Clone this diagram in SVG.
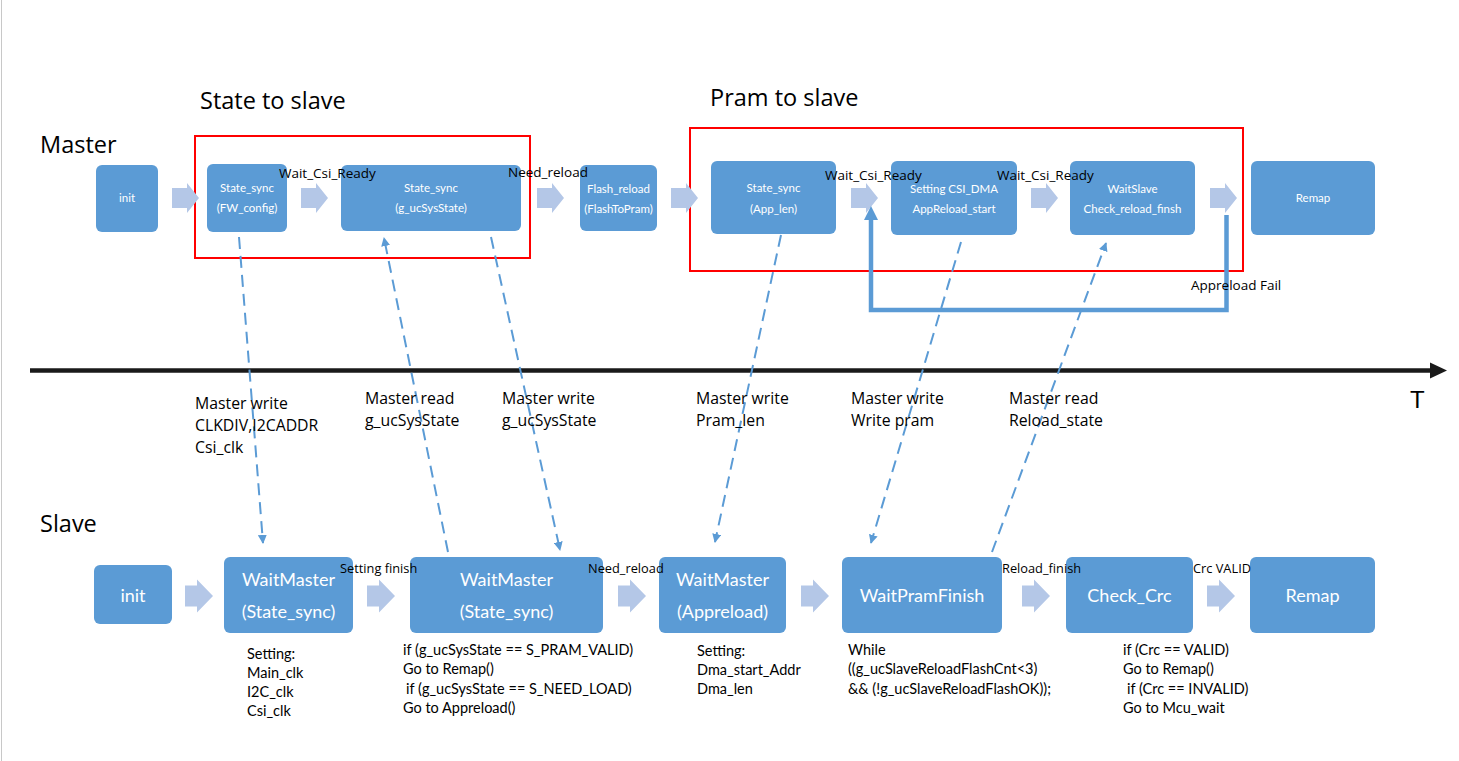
<svg xmlns="http://www.w3.org/2000/svg" width="1459" height="761" viewBox="0 0 1459 761">
<defs>
<style>
.node{fill:#5b9bd5}
.blk{fill:#b4c7e7}
.mt{font-family:Lato,"Liberation Sans",sans-serif;font-size:11.5px;fill:#fff;text-anchor:middle}
.st{font-family:Lato,"Liberation Sans",sans-serif;font-size:18px;fill:#fff;text-anchor:middle}
.lbl{font-family:"Open Sans","Noto Sans",sans-serif;font-size:13.5px;fill:#000}
.sl{font-size:12.8px}
.mid{font-family:"Open Sans","Noto Sans",sans-serif;font-size:15.8px;fill:#000}
.note{font-family:Lato,"Liberation Sans",sans-serif;font-size:14.5px;fill:#000}
.title{font-family:"Open Sans","Noto Sans",sans-serif;font-size:23.5px;fill:#000}
.red{fill:none;stroke:#ff0000;stroke-width:2}
.dash{fill:none;stroke:#5b9bd5;stroke-width:2;stroke-dasharray:12 7}
.loop{fill:none;stroke:#5b9bd5;stroke-width:4.5}
</style>
<path id="ma" d="M0,-10 H15 V-15 L27,0 L15,15 V10 H0 Z"/>
<path id="sa" d="M0,-10.5 H12 V-16.5 L28,0 L12,16.5 V10.5 H0 Z"/>
<marker id="ah" viewBox="0 0 10 10" refX="9" refY="5" markerWidth="4.5" markerHeight="4.5" markerUnits="strokeWidth" orient="auto">
<path d="M0,0 L10,5 L0,10 Z" fill="#5b9bd5"/>
</marker>
<marker id="lh" viewBox="0 0 14 14" refX="2" refY="7" markerWidth="14" markerHeight="14" markerUnits="userSpaceOnUse" orient="auto">
<path d="M0,0 L14,7 L0,14 Z" fill="#5b9bd5"/>
</marker>
</defs>
<rect x="0" y="0" width="1459" height="761" fill="#ffffff"/>
<line x1="1.5" y1="0" x2="1.5" y2="761" stroke="#c8c8c8" stroke-width="1"/>

<!-- titles -->
<text class="title" x="40" y="153" font-size="24.5">Master</text>
<text class="title" x="200" y="109">State to slave</text>
<text class="title" x="710" y="106">Pram to slave</text>
<text class="title" x="40" y="532" font-size="24">Slave</text>

<!-- red group boxes -->
<rect class="red" x="195" y="136" width="335" height="122"/>
<rect class="red" x="690" y="128" width="553" height="143"/>

<!-- timeline -->
<g id="timeline">
<line x1="30" y1="370.5" x2="1432" y2="370.5" stroke="#1a1a1a" stroke-width="4.5"/>
<polygon points="1430,362.5 1447,370.5 1430,378.5" fill="#1a1a1a"/>
<text x="1410" y="408" font-family="'Liberation Sans',Arial,sans-serif" font-size="24" fill="#000">T</text>
</g>

<!-- master nodes -->
<g id="m-init"><rect class="node" x="96" y="165" width="62" height="67" rx="6"/><text class="mt" x="127" y="202">init</text></g>
<g id="m-fwconfig"><rect class="node" x="207" y="164" width="80" height="68" rx="6"/><text class="mt" x="247" y="192">State_sync</text><text class="mt" x="247" y="212">(FW_config)</text></g>
<g id="m-sysstate"><rect class="node" x="341" y="165" width="180" height="66" rx="6"/><text class="mt" x="431" y="192">State_sync</text><text class="mt" x="431" y="212">(g_ucSysState)</text></g>
<g id="m-flashreload"><rect class="node" x="580" y="165" width="77" height="66" rx="6"/><text class="mt" x="618.5" y="193">Flash_reload</text><text class="mt" x="618.5" y="213">(FlashToPram)</text></g>
<g id="m-applen"><rect class="node" x="711" y="161" width="125" height="73" rx="6"/><text class="mt" x="773.5" y="192">State_sync</text><text class="mt" x="773.5" y="213">(App_len)</text></g>
<g id="m-csidma"><rect class="node" x="891" y="161" width="126" height="74" rx="6"/><text class="mt" x="954" y="193">Setting CSI_DMA</text><text class="mt" x="954" y="213">AppReload_start</text></g>
<g id="m-waitslave"><rect class="node" x="1070" y="161" width="125" height="74" rx="6"/><text class="mt" x="1132.5" y="193">WaitSlave</text><text class="mt" x="1132.5" y="213">Check_reload_finsh</text></g>
<g id="m-remap"><rect class="node" x="1251" y="161" width="124" height="74" rx="6"/><text class="mt" x="1313" y="202">Remap</text></g>

<!-- slave nodes -->
<g id="s-init"><rect class="node" x="94" y="565" width="78" height="59" rx="6"/><text class="st" x="133" y="602">init</text></g>
<g id="s-waitmaster1"><rect class="node" x="224" y="557" width="129" height="76" rx="6"/><text class="st" x="288.5" y="586">WaitMaster</text><text class="st" x="288.5" y="618">(State_sync)</text></g>
<g id="s-waitmaster2"><rect class="node" x="410" y="557" width="193" height="76" rx="6"/><text class="st" x="506.5" y="586">WaitMaster</text><text class="st" x="506.5" y="618">(State_sync)</text></g>
<g id="s-waitmaster3"><rect class="node" x="659" y="557" width="127" height="76" rx="6"/><text class="st" x="722.5" y="586">WaitMaster</text><text class="st" x="722.5" y="618">(Appreload)</text></g>
<g id="s-waitpram"><rect class="node" x="842" y="557" width="160" height="76" rx="6"/><text class="st" x="922" y="602">WaitPramFinish</text></g>
<g id="s-checkcrc"><rect class="node" x="1066" y="557" width="127" height="76" rx="6"/><text class="st" x="1129.5" y="602">Check_Crc</text></g>
<g id="s-remap"><rect class="node" x="1250" y="557" width="125" height="76" rx="6"/><text class="st" x="1312.5" y="602">Remap</text></g>

<!-- connectors -->
<g id="connectors">
<g class="blk">
<use href="#ma" x="172" y="198"/>
<use href="#ma" x="301" y="198"/>
<use href="#ma" x="537" y="198"/>
<use href="#ma" x="671" y="198"/>
<use href="#ma" x="851" y="198"/>
<use href="#ma" x="1031" y="198"/>
<use href="#ma" x="1210" y="198"/>
<use href="#sa" x="185" y="596"/>
<use href="#sa" x="367" y="596"/>
<use href="#sa" x="618" y="596"/>
<use href="#sa" x="801" y="596"/>
<use href="#sa" x="1022" y="596"/>
<use href="#sa" x="1207" y="596"/>
</g>
<path class="loop" d="M1226.5,215 V310 H871 V218" marker-end="url(#lh)"/>
<path class="dash" d="M239,237 L263,543" marker-end="url(#ah)"/>
<path class="dash" d="M448,552 L384,238" marker-end="url(#ah)"/>
<path class="dash" d="M491,237 L560,550" marker-end="url(#ah)"/>
<path class="dash" d="M781,235 L715,542" marker-end="url(#ah)"/>
<path class="dash" d="M961,242 L871,543" marker-end="url(#ah)"/>
<path class="dash" d="M992,552 L1106,243" marker-end="url(#ah)"/>
</g>

<!-- transition labels -->
<text class="lbl" x="279" y="178">Wait_Csi_Ready</text>
<text class="lbl" x="508" y="177">Need_reload</text>
<text class="lbl" x="825" y="180">Wait_Csi_Ready</text>
<text class="lbl" x="997" y="180">Wait_Csi_Ready</text>
<text class="lbl" x="1191" y="290">Appreload Fail</text>
<text class="lbl sl" x="340" y="573">Setting finish</text>
<text class="lbl sl" x="588" y="573">Need_reload</text>
<text class="lbl sl" x="1002" y="573">Reload_finish</text>
<text class="lbl sl" x="1193" y="573">Crc VALID</text>

<!-- middle labels -->
<text class="mid" x="195" y="409">Master write</text>
<text class="mid" x="195" y="431">CLKDIV,I2CADDR</text>
<text class="mid" x="195" y="453">Csi_clk</text>
<text class="mid" x="365" y="404">Master read</text>
<text class="mid" x="365" y="426">g_ucSysState</text>
<text class="mid" x="502" y="404">Master write</text>
<text class="mid" x="502" y="426">g_ucSysState</text>
<text class="mid" x="696" y="404">Master write</text>
<text class="mid" x="696" y="426">Pram_len</text>
<text class="mid" x="851" y="404">Master write</text>
<text class="mid" x="851" y="426">Write pram</text>
<text class="mid" x="1009" y="404">Master read</text>
<text class="mid" x="1009" y="426">Reload_state</text>

<!-- notes under slave nodes -->
<text class="note" x="247" y="659">Setting:</text>
<text class="note" x="247" y="678">Main_clk</text>
<text class="note" x="247" y="697">I2C_clk</text>
<text class="note" x="247" y="716">Csi_clk</text>
<text class="note" x="403" y="655">if (g_ucSysState == S_PRAM_VALID)</text>
<text class="note" x="403" y="674">Go to Remap()</text>
<text class="note" x="406" y="694">if (g_ucSysState == S_NEED_LOAD)</text>
<text class="note" x="403" y="713">Go to Appreload()</text>
<text class="note" x="697" y="656">Setting:</text>
<text class="note" x="697" y="675">Dma_start_Addr</text>
<text class="note" x="697" y="694">Dma_len</text>
<text class="note" x="848" y="655">While</text>
<text class="note" x="848" y="674">((g_ucSlaveReloadFlashCnt&lt;3)</text>
<text class="note" x="848" y="694">&amp;&amp; (!g_ucSlaveReloadFlashOK));</text>
<text class="note" x="1123" y="655">if (Crc == VALID)</text>
<text class="note" x="1123" y="674">Go to Remap()</text>
<text class="note" x="1127" y="694">if (Crc == INVALID)</text>
<text class="note" x="1123" y="713">Go to Mcu_wait</text>
</svg>
